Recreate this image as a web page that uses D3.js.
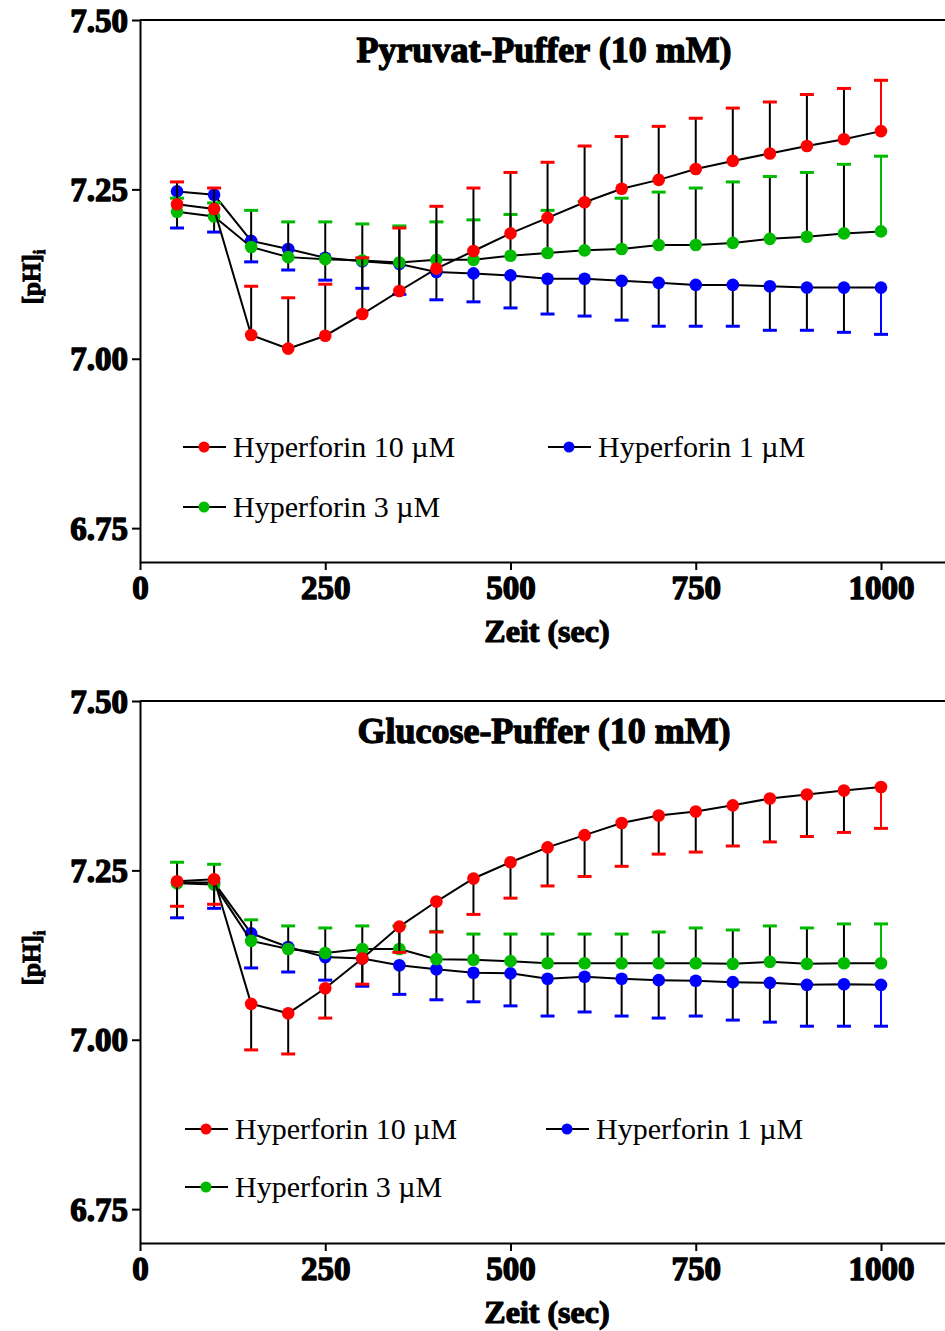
<!DOCTYPE html>
<html>
<head>
<meta charset="utf-8">
<script src="https://cdn.jsdelivr.net/npm/d3@7"></script>
<style>
  html, body { margin: 0; padding: 0; background: #fff; }
  svg { display: block; }
</style>
</head>
<body>
<svg id="chart" width="945" height="1331"></svg>
<script>
// Sampling times (s)
const timeSec = [50, 100, 150, 200, 250, 300, 350, 400, 450, 500,
                 550, 600, 650, 700, 750, 800, 850, 900, 950, 1000];

const xTicks = [0, 250, 500, 750, 1000];
const yTicks = [6.75, 7.00, 7.25, 7.50];

const seriesNames = ["Hyperforin 10 µM", "Hyperforin 1 µM", "Hyperforin 3 µM"];
const seriesColors = ["#ff0000", "#0000ff", "#00bb00"];

// Pyruvate buffer (10 mM): mean pH_i and SEM
const pyrHf10    = [7.228, 7.221, 7.035, 7.015, 7.034, 7.066, 7.100, 7.133, 7.159, 7.185,
                    7.208, 7.231, 7.251, 7.264, 7.280, 7.292, 7.303, 7.314, 7.324, 7.336];
const pyrHf10Err = [0.033, 0.031, 0.072, 0.075, 0.076, 0.083, 0.093, 0.092, 0.093, 0.090,
                    0.082, 0.083, 0.077, 0.079, 0.075, 0.078, 0.076, 0.076, 0.075, 0.075];
const pyrHf1     = [7.247, 7.242, 7.174, 7.162, 7.149, 7.144, 7.140, 7.128, 7.126, 7.123,
                    7.118, 7.118, 7.115, 7.112, 7.109, 7.109, 7.107, 7.105, 7.105, 7.105];
const pyrHf1Err  = [0.054, 0.055, 0.031, 0.031, 0.033, 0.040, 0.045, 0.041, 0.042, 0.048,
                    0.052, 0.055, 0.058, 0.064, 0.061, 0.061, 0.065, 0.063, 0.066, 0.069];
const pyrHf3     = [7.217, 7.210, 7.165, 7.150, 7.147, 7.145, 7.142, 7.146, 7.146, 7.152,
                    7.156, 7.160, 7.162, 7.168, 7.168, 7.171, 7.177, 7.180, 7.185, 7.188];
const pyrHf3Err  = [0.020, 0.020, 0.054, 0.052, 0.055, 0.054, 0.054, 0.056, 0.059, 0.061,
                    0.063, 0.072, 0.075, 0.078, 0.084, 0.090, 0.092, 0.095, 0.102, 0.111];

// Glucose buffer (10 mM): mean pH_i and SEM
const gluHf10    = [7.234, 7.237, 7.053, 7.039, 7.076, 7.120, 7.167, 7.204, 7.238, 7.262,
                    7.284, 7.302, 7.320, 7.331, 7.337, 7.346, 7.356, 7.362, 7.368, 7.373];
const gluHf10Err = [0.037, 0.037, 0.068, 0.060, 0.044, 0.038, 0.038, 0.045, 0.053, 0.053,
                    0.057, 0.061, 0.064, 0.057, 0.060, 0.060, 0.064, 0.062, 0.062, 0.061];
const gluHf1     = [7.232, 7.232, 7.157, 7.137, 7.122, 7.120, 7.110, 7.104, 7.099, 7.098,
                    7.090, 7.093, 7.090, 7.088, 7.087, 7.085, 7.084, 7.081, 7.082, 7.081];
const gluHf1Err  = [0.052, 0.038, 0.051, 0.037, 0.034, 0.041, 0.043, 0.045, 0.043, 0.048,
                    0.055, 0.052, 0.055, 0.056, 0.052, 0.056, 0.058, 0.061, 0.062, 0.061];
const gluHf3     = [7.231, 7.229, 7.146, 7.134, 7.128, 7.134, 7.134, 7.119, 7.118, 7.116,
                    7.113, 7.113, 7.113, 7.113, 7.113, 7.112, 7.115, 7.112, 7.113, 7.113];
const gluHf3Err  = [0.031, 0.030, 0.031, 0.034, 0.037, 0.034, 0.034, 0.041, 0.038, 0.040,
                    0.043, 0.043, 0.043, 0.046, 0.052, 0.050, 0.053, 0.053, 0.058, 0.058];

const serif = "'Liberation Serif', 'Times New Roman', serif";

// Panel layout: plot area and error-bar direction (+1 up, -1 down) per series
const panels = [
  { title: "Pyruvat-Puffer (10 mM)", top: 20,
    means: [pyrHf10, pyrHf1, pyrHf3], errs: [pyrHf10Err, pyrHf1Err, pyrHf3Err],
    dirs: [1, -1, 1], legendX: [183, 548], legendY: [447, 507] },
  { title: "Glucose-Puffer (10 mM)", top: 701,
    means: [gluHf10, gluHf1, gluHf3], errs: [gluHf10Err, gluHf1Err, gluHf3Err],
    dirs: [-1, -1, 1], legendX: [185, 546], legendY: [1129, 1187] }
];

const svg = d3.select("#chart");
const left = 140, right = 945, plotH = 542;

// heavy bold serif used for tick labels and titles
function heavy(sel, size, sw) {
  sel.attr("font-family", serif).attr("font-size", size).attr("font-weight", "bold")
    .attr("fill", "#000").attr("stroke", "#000").attr("stroke-width", sw)
    .attr("stroke-linejoin", "round");
}

panels.forEach(p => {
  const g = svg.append("g");
  const x = d3.scaleLinear().domain([0, 1000 * (right - left) / 741]).range([left, right]);
  const y = d3.scaleLinear().domain([6.70, 7.50]).range([p.top + plotH, p.top]);

  // top frame line
  g.append("line")
    .attr("x1", left).attr("x2", right)
    .attr("y1", p.top).attr("y2", p.top)
    .attr("stroke", "#000").attr("stroke-width", 2);

  // y axis
  const ya = g.append("g").attr("transform", `translate(${left},0)`)
    .call(d3.axisLeft(y).tickValues(yTicks).tickFormat(d3.format(".2f"))
      .tickSize(8).tickSizeOuter(0).tickPadding(4));
  ya.select(".domain").attr("stroke-width", 2);
  ya.selectAll(".tick line").attr("stroke-width", 2);
  ya.selectAll(".tick text").call(heavy, 33, 1.4).attr("dy", "0.34em");

  // x axis
  const xa = g.append("g").attr("transform", `translate(0,${p.top + plotH})`)
    .call(d3.axisBottom(x).tickValues(xTicks).tickFormat(d3.format("d"))
      .tickSize(8).tickSizeOuter(0).tickPadding(6));
  xa.select(".domain").attr("stroke-width", 2);
  xa.selectAll(".tick line").attr("stroke-width", 2);
  xa.selectAll(".tick text").call(heavy, 33, 1.4).attr("dy", "0.71em");

  // axis titles
  g.append("text")
    .attr("x", 547).attr("y", p.top + plotH + 80)
    .attr("text-anchor", "middle")
    .call(heavy, 32, 1.2)
    .text("Zeit (sec)");

  const yl = g.append("text")
    .attr("transform", `translate(40,${p.top + 257}) rotate(-90)`)
    .attr("text-anchor", "middle")
    .call(heavy, 25, 1.0);
  yl.append("tspan").text("[pH]");
  yl.append("tspan").attr("font-size", 16).attr("dy", 5).text("i");

  // panel title
  g.append("text")
    .attr("x", 544).attr("y", p.top + 42)
    .attr("text-anchor", "middle")
    .call(heavy, 36, 1.3)
    .text(p.title);

  // series: drawn 1 µM, 3 µM, then 10 µM on top
  const order = [1, 2, 0];
  order.forEach(si => {
    const col = seriesColors[si];
    const pts = timeSec.map((t, i) => ({ t, v: p.means[si][i], e: p.errs[si][i] }));
    const sg = g.append("g");

    sg.append("path").datum(pts)
      .attr("fill", "none").attr("stroke", "#000").attr("stroke-width", 2)
      .attr("d", d3.line().x(d => x(d.t)).y(d => y(d.v)));

    const eb = sg.selectAll(".eb").data(pts).enter().append("g");
    const last = pts.length - 1;
    eb.append("line")
      .attr("x1", d => x(d.t)).attr("x2", d => x(d.t))
      .attr("y1", d => y(d.v))
      .attr("y2", d => y(d.v + p.dirs[si] * d.e))
      .attr("stroke", (d, i) => i === last ? col : "#000")
      .attr("stroke-width", 2);
    eb.append("line")
      .attr("x1", d => x(d.t) - 7).attr("x2", d => x(d.t) + 7)
      .attr("y1", d => y(d.v + p.dirs[si] * d.e))
      .attr("y2", d => y(d.v + p.dirs[si] * d.e))
      .attr("stroke", col).attr("stroke-width", 3);

    sg.selectAll(".pt").data(pts).enter().append("circle")
      .attr("cx", d => x(d.t)).attr("cy", d => y(d.v))
      .attr("r", 6.3).attr("fill", col);
  });

  // legend
  const legendPos = [
    [p.legendX[0], p.legendY[0]],
    [p.legendX[1], p.legendY[0]],
    [p.legendX[0], p.legendY[1]]
  ];
  seriesNames.forEach((name, si) => {
    const [lx, ly] = legendPos[si];
    const lg = g.append("g").attr("transform", `translate(${lx},${ly})`);
    lg.append("line").attr("x1", 0).attr("x2", 43).attr("y1", 0).attr("y2", 0)
      .attr("stroke", "#000").attr("stroke-width", 2);
    lg.append("circle").attr("cx", 21).attr("cy", 0).attr("r", 5.5)
      .attr("fill", seriesColors[si]);
    lg.append("text").attr("x", 50).attr("y", 0).attr("dy", "0.33em")
      .attr("font-family", serif).attr("font-size", 30)
      .text(name);
  });
});
</script>
</body>
</html>
